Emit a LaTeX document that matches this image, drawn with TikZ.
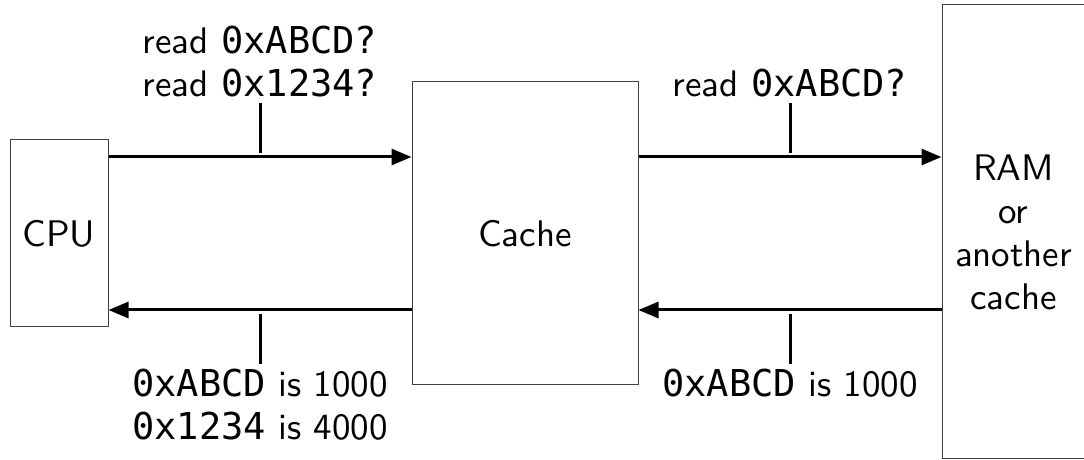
\documentclass[tikz,border=0pt]{standalone}
\usepackage{fontspec}
\setsansfont{lmsans10-regular}[Extension=.otf]
\setmonofont{DejaVu Sans Mono}
\usetikzlibrary{arrows.meta}
\begin{document}
\begin{tikzpicture}[x=0.5pt,y=-0.5pt,
    every node/.style={font=\sffamily\fontsize{18.5}{21.5}\selectfont},
    box/.style={draw=black!75,line width=0.5pt,inner sep=0pt,align=center},
    msg/.style={line width=1.5pt,-{Triangle[length=10pt,width=8pt]}},
    tick/.style={line width=1.5pt},
    lbl/.style={align=center,inner sep=2pt}]
    \useasboundingbox (0,0) rectangle (1084,460);
    \clip (0,0) rectangle (1084,460);
    \def\gap{38.25pt}
    \node[box,minimum width=49pt,minimum height=93.5pt] (cpu) at (59,233.5) {CPU};
    \node[box,minimum width=113pt,minimum height=151.5pt] (cache) at (525,233.5) {Cache};
    \node[box,minimum width=71.5pt,minimum height=227pt] (ram) at (1013.5,232) {RAM\\or\\another\\cache};
    % requests going right
    \draw[msg] ([yshift=\gap]cpu.east) coordinate (q1) -- coordinate[midway] (m1) (q1 -| cache.west);
    \draw[msg] ([yshift=\gap]cache.east) coordinate (q2) -- coordinate[midway] (m2) (q2 -| ram.west);
    \draw[tick] ([yshift=2pt]m1) -- ++(0,-50) node[lbl,above] {read \texttt{0xABCD?}\\read \texttt{0x1234?}};
    \draw[tick] ([yshift=2pt]m2) -- ++(0,-50) node[lbl,above] {read \texttt{0xABCD?}};
    % answers going left
    \draw[msg] ([yshift=-\gap]cache.west) coordinate (r1) -- coordinate[midway] (m3) (r1 -| cpu.east);
    \draw[msg] (r1 -| ram.west) coordinate (r2) -- coordinate[midway] (m4) (r2 -| cache.east);
    \draw[tick] ([yshift=-2pt]m3) -- ++(0,50) node[lbl,below] {\texttt{0xABCD} is 1000\\\texttt{0x1234} is 4000};
    \draw[tick] ([yshift=-2pt]m4) -- ++(0,50) node[lbl,below] {\texttt{0xABCD} is 1000};
\end{tikzpicture}
\end{document}
